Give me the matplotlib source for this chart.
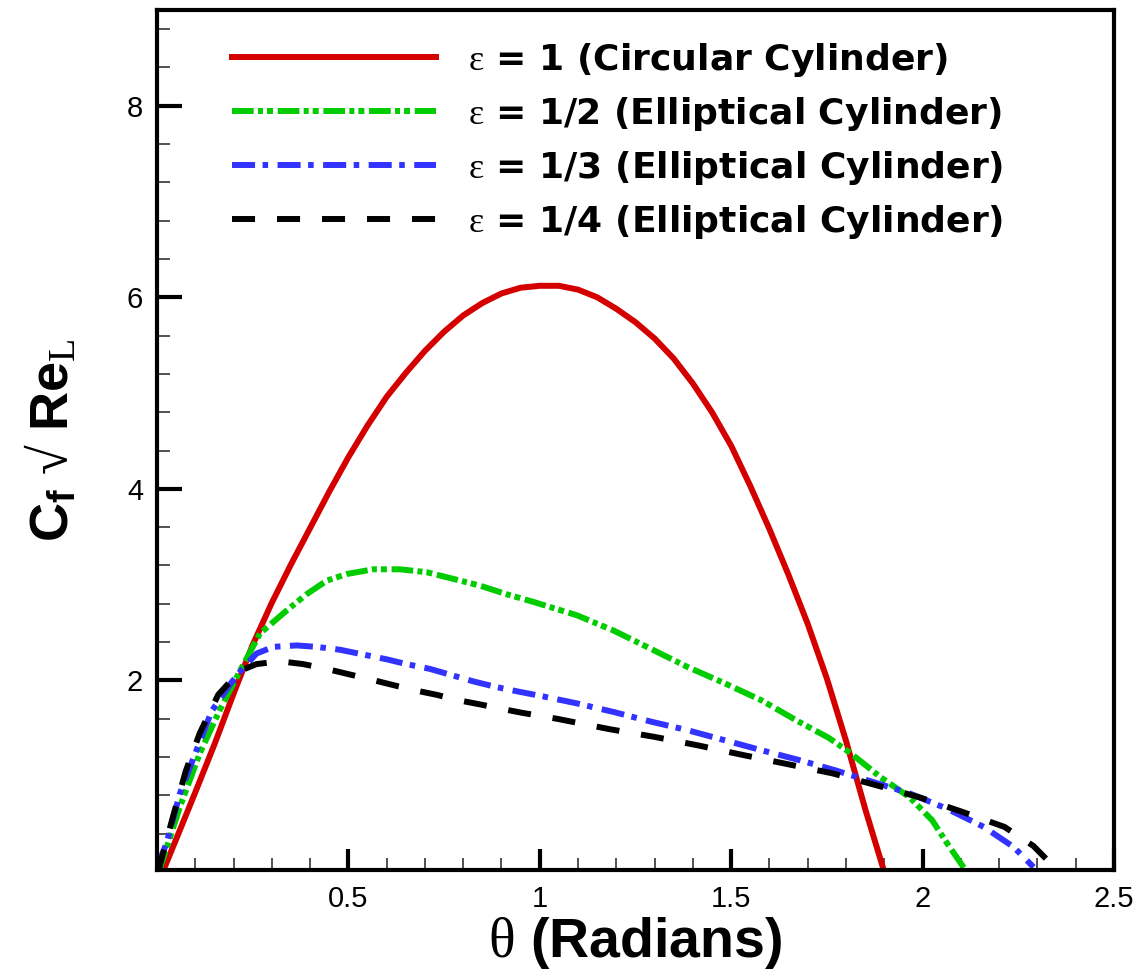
import matplotlib
matplotlib.use('Agg')
import matplotlib.pyplot as plt
from matplotlib.ticker import MultipleLocator, FixedLocator

# fonts: Helvetica-like text, serif greek letters as in the original
plt.rcParams['font.family'] = ['Liberation Sans', 'DejaVu Sans']
plt.rcParams['mathtext.fontset'] = 'custom'
plt.rcParams['mathtext.rm'] = 'Liberation Serif'
plt.rcParams['mathtext.it'] = 'Liberation Serif'
plt.rcParams['mathtext.bf'] = 'Liberation Sans:bold'
plt.rcParams['lines.scale_dashes'] = False

# data
labels = [r'$\varepsilon$ = 1 (Circular Cylinder)',
          r'$\varepsilon$ = 1/2 (Elliptical Cylinder)',
          r'$\varepsilon$ = 1/3 (Elliptical Cylinder)',
          r'$\varepsilon$ = 1/4 (Elliptical Cylinder)']

theta_e1 = [0.015, 0.05, 0.1, 0.15, 0.2, 0.25, 0.3, 0.35, 0.4, 0.45,
            0.5, 0.55, 0.6, 0.65, 0.7, 0.75, 0.8, 0.85, 0.9, 0.95,
            1.0, 1.05, 1.1, 1.15, 1.2, 1.25, 1.3, 1.35, 1.4, 1.45,
            1.5, 1.55, 1.6, 1.65, 1.7, 1.75, 1.8, 1.85, 1.9]
cf_e1 = [0.0, 0.34, 0.83, 1.33, 1.86, 2.37, 2.81, 3.21, 3.59, 3.97,
         4.33, 4.66, 4.96, 5.21, 5.44, 5.64, 5.81, 5.94, 6.04, 6.10,
         6.12, 6.12, 6.08, 6.00, 5.88, 5.74, 5.57, 5.36, 5.10, 4.80,
         4.45, 4.03, 3.58, 3.10, 2.59, 2.02, 1.37, 0.66, 0.0]

theta_e2 = [0.005, 0.06, 0.112, 0.164, 0.217, 0.269, 0.339, 0.391, 0.443, 0.495,
            0.565, 0.634, 0.704, 0.774, 0.843, 0.913, 0.983, 1.097, 1.193, 1.29,
            1.386, 1.483, 1.58, 1.676, 1.755, 1.812, 1.89, 1.966, 2.025, 2.064, 2.112]
cf_e2 = [0.0, 0.68, 1.24, 1.69, 2.1, 2.49, 2.73, 2.90, 3.04, 3.11,
         3.16, 3.16, 3.13, 3.06, 2.99, 2.90, 2.82, 2.68, 2.52, 2.33,
         2.14, 1.97, 1.79, 1.57, 1.40, 1.24, 0.99, 0.78, 0.54, 0.30, 0.02]

theta_e3 = [0.0, 0.025, 0.06, 0.108, 0.143, 0.195, 0.217, 0.26, 0.304, 0.365,
            0.417, 0.478, 0.539, 0.60, 0.652, 0.713, 0.774, 0.826, 0.887, 0.948,
            1.0, 1.097, 1.193, 1.29, 1.386, 1.483, 1.58, 1.676, 1.773, 1.87,
            1.966, 2.064, 2.16, 2.238, 2.29]
cf_e3 = [0.05, 0.3, 0.82, 1.32, 1.68, 1.98, 2.09, 2.28, 2.35, 2.365,
         2.35, 2.32, 2.27, 2.22, 2.17, 2.12, 2.05, 1.99, 1.93, 1.88,
         1.84, 1.76, 1.67, 1.57, 1.48, 1.375, 1.27, 1.17, 1.06, 0.94,
         0.82, 0.66, 0.47, 0.26, 0.05]

theta_e4 = [0.003, 0.04, 0.075, 0.112, 0.16, 0.217, 0.26, 0.321, 0.382, 0.443,
            0.495, 0.548, 0.608, 0.669, 0.73, 0.791, 0.843, 0.904, 0.956, 1.044,
            1.183, 1.30, 1.415, 1.532, 1.648, 1.764, 1.875, 1.991, 2.102, 2.214,
            2.29, 2.327]
cf_e4 = [0.0, 0.55, 1.05, 1.45, 1.85, 2.1, 2.17, 2.20, 2.17, 2.12,
         2.07, 2.02, 1.96, 1.9, 1.85, 1.79, 1.75, 1.70, 1.66, 1.60,
         1.49, 1.41, 1.32, 1.22, 1.125, 1.03, 0.91, 0.78, 0.63, 0.47,
         0.27, 0.12]

x_ticks = [0.5, 1, 1.5, 2, 2.5]
x_ticklabels = ['0.5', '1', '1.5', '2', '2.5']
y_ticks = [2, 4, 6, 8]
y_ticklabels = ['2', '4', '6', '8']

fig = plt.figure(figsize=(11.39, 9.77), dpi=100)
ax = fig.add_axes([0.1378, 0.1095, 0.8402, 0.8803])

lw = 4.3
ax.plot(theta_e1, cf_e1, color='#d40000', lw=lw, label=labels[0])
ax.plot(theta_e2, cf_e2, color='#00cc00', lw=lw, label=labels[1],
        linestyle=(0, (15.6, 3.1, 3.6, 2.9, 4.3, 3.4)), dash_capstyle='butt')
ax.plot(theta_e3, cf_e3, color='#3333ff', lw=lw, label=labels[2],
        linestyle=(0, (16.6, 5.4, 4.0, 6.8)), dash_capstyle='butt')
ax.plot(theta_e4, cf_e4, color='black', lw=lw, label=labels[3],
        linestyle=(0, (16.6, 15.8)), dash_capstyle='butt')

ax.set_xlim(0, 2.5)
ax.set_ylim(0.02, 9.0)

ax.xaxis.set_major_locator(FixedLocator(x_ticks))
ax.set_xticklabels(x_ticklabels)
ax.xaxis.set_minor_locator(MultipleLocator(0.1))
ax.yaxis.set_major_locator(FixedLocator(y_ticks))
ax.set_yticklabels(y_ticklabels)
ax.yaxis.set_minor_locator(MultipleLocator(0.4))

ax.tick_params(which='both', direction='in', top=False, right=False)
ax.tick_params(axis='x', which='major', length=15, width=3, labelsize=21, pad=11)
ax.tick_params(axis='y', which='major', length=18, width=3, labelsize=21, pad=10)
ax.tick_params(axis='x', which='minor', length=8.5, width=1.2, color='#333333')
ax.tick_params(axis='y', which='minor', length=9.5, width=1.2, color='#333333')

for sp in ax.spines.values():
    sp.set_linewidth(3)

ax.set_xlabel(r'$\theta$ (Radians)', fontsize=40, fontweight='bold', labelpad=1)
ax.set_ylabel('$\\mathbf{C}_{\\mathbf{f}}\\ \u221a\\ \\mathbf{Re}_{\\mathrm{L}}$',
              fontsize=39, labelpad=34)

leg = ax.legend(loc='upper left', bbox_to_anchor=(0.0784, 0.964), frameon=False,
                prop={'family': 'DejaVu Sans', 'size': 26, 'weight': 'bold'},
                handlelength=5.65, handletextpad=0.89, labelspacing=0.44,
                borderpad=0, borderaxespad=0)

fig.savefig('out.png', dpi=100)
